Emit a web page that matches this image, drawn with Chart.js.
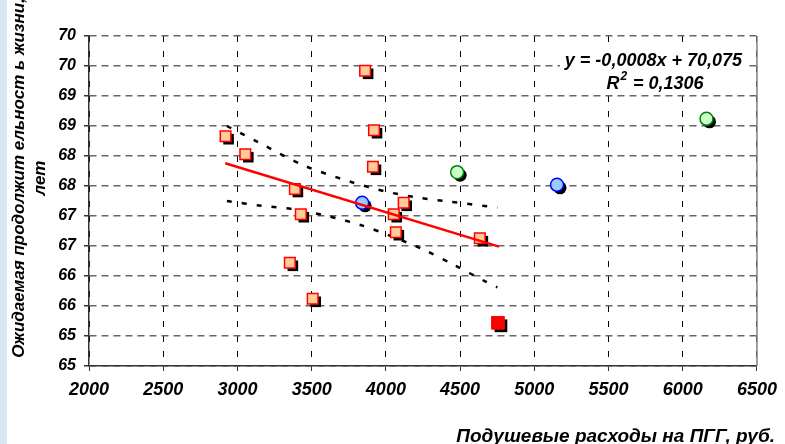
<!DOCTYPE html>
<html>
<head>
<meta charset="utf-8">
<script src="https://cdn.jsdelivr.net/npm/chart.js@4.4.1/dist/chart.umd.min.js"></script>
<style>
    html, body { margin: 0; padding: 0; }
    body { width: 785px; height: 444px; background: linear-gradient(to right, #d9e5f2 7px, #ffffff 7px); }
    #wrap { position: relative; width: 785px; height: 444px; }
</style>
</head>
<body>
<div id="wrap"><canvas id="lifeChart" width="785" height="444"></canvas></div>
<script>
// regions (orange squares)
var regionX = [2920, 3053, 3860, 3920, 3913, 3387, 4120, 3427, 4053, 4067, 4633, 3353, 3507];
var regionY = [68.83, 68.53, 69.92, 68.93, 68.32, 67.95, 67.72, 67.53, 67.53, 67.23, 67.13, 66.72, 66.12];
// highlighted region (red square)
var redX = [4755];
var redY = [65.72];
// blue circles
var blueX = [3840, 5153];
var blueY = [67.72, 68.02];
// green circles
var greenX = [4480, 6160];
var greenY = [68.23, 69.12];
// linear trend
var trendX = [2918, 4762];
var trendY = [68.38, 66.99];
// confidence band, upper and lower
var upperX = [2929, 3140, 3440, 3762, 3996, 4207, 4429, 4751];
var upperY = [69.0, 68.73, 68.35, 68.07, 67.91, 67.81, 67.74, 67.64];
var lowerX = [2929, 3162, 3384, 3607, 3829, 4040, 4262, 4462, 4662, 4751];
var lowerY = [67.75, 67.67, 67.61, 67.5, 67.35, 67.16, 66.93, 66.68, 66.42, 66.31];

var yTickLabels = ['65', '65', '66', '66', '67', '67', '68', '68', '69', '69', '70', '70'];
var yTitle = ['Ожидаемая продолжит ельност ь жизни,', 'лет'];
var xTitle = 'Подушевые расходы на ПГГ, руб.';
var eqLine1 = 'y = -0,0008x + 70,075';
var eqLine2 = ['R', '2', ' = 0,1306'];

function pts(xs, ys) {
    var out = [];
    for (var i = 0; i < xs.length; i++) {
        out.push({ x: xs[i], y: ys[i] });
    }
    return out;
}

var fontFam = "'Liberation Sans', Arial, sans-serif";

// black drop shadow under the markers (fill only, not the outline)
var shadowPlugin = {
    id: 'shadow',
    beforeDatasetDraw: function (chart, args) {
        var ds = chart.data.datasets[args.index];
        var c = chart.ctx;
        c.save();
        if (ds.dropShadow) {
            c.shadowColor = '#000000';
            c.shadowOffsetX = 3;
            c.shadowOffsetY = 3;
            c.shadowBlur = 0;
            c._origStroke = c.stroke;
            c.stroke = function () {
                var sc = this.shadowColor;
                this.shadowColor = 'rgba(0,0,0,0)';
                this._origStroke.apply(this, arguments);
                this.shadowColor = sc;
            };
        }
    },
    afterDatasetDraw: function (chart) {
        var c = chart.ctx;
        if (c._origStroke) {
            c.stroke = c._origStroke;
            delete c._origStroke;
        }
        c.restore();
    }
};

// right frame, axis titles and the equation box
var textPlugin = {
    id: 'texts',
    beforeDatasetsDraw: function (chart) {
        var ctx = chart.ctx;
        var a = chart.chartArea;
        ctx.save();
        ctx.strokeStyle = '#808080';
        ctx.lineWidth = 1.5;
        ctx.beginPath();
        ctx.moveTo(a.right, a.top);
        ctx.lineTo(a.right, a.bottom);
        ctx.stroke();
        // white box under the trend equation
        ctx.fillStyle = '#ffffff';
        ctx.fillRect(560, 48, 186, 45);
        ctx.restore();
    },
    afterDraw: function (chart) {
        var ctx = chart.ctx;
        ctx.save();
        ctx.fillStyle = '#000000';
        ctx.font = 'italic bold 17px ' + fontFam;
        ctx.textAlign = 'center';
        ctx.textBaseline = 'middle';
        ctx.save();
        ctx.translate(19, 178);
        ctx.rotate(-Math.PI / 2);
        ctx.fillText(yTitle[0], 0, 0);
        ctx.restore();
        ctx.save();
        ctx.translate(40, 178);
        ctx.rotate(-Math.PI / 2);
        ctx.fillText(yTitle[1], 0, 0);
        ctx.restore();

        ctx.font = 'italic bold 19px ' + fontFam;
        ctx.textAlign = 'right';
        ctx.fillText(xTitle, 775, 437);

        ctx.font = 'italic bold 18px ' + fontFam;
        ctx.textAlign = 'right';
        ctx.fillText(eqLine1, 742, 61);

        // R^2 line, centred around x = 654
        ctx.textAlign = 'left';
        var wR = ctx.measureText(eqLine2[0]).width;
        var wRest = ctx.measureText(eqLine2[2]).width;
        ctx.font = 'italic bold 12px ' + fontFam;
        var wSup = ctx.measureText(eqLine2[1]).width;
        var x0 = 654 - (wR + wSup + wRest) / 2;
        ctx.font = 'italic bold 18px ' + fontFam;
        ctx.fillText(eqLine2[0], x0, 84);
        ctx.font = 'italic bold 12px ' + fontFam;
        ctx.fillText(eqLine2[1], x0 + wR + 1, 77);
        ctx.font = 'italic bold 18px ' + fontFam;
        ctx.fillText(eqLine2[2], x0 + wR + wSup + 2, 84);
        ctx.restore();
    }
};

var ctx = document.getElementById('lifeChart');
var lifeChart = new Chart(ctx, {
    type: 'scatter',
    data: {
        datasets: [
            {
                label: 'upper',
                data: pts(upperX, upperY),
                order: 2,
                showLine: true,
                borderColor: '#000000',
                borderWidth: 2.5,
                borderDash: [5, 10],
                pointRadius: 0,
                tension: 0.3
            },
            {
                label: 'lower',
                data: pts(lowerX, lowerY),
                order: 2,
                showLine: true,
                borderColor: '#000000',
                borderWidth: 2.5,
                borderDash: [5, 10],
                pointRadius: 0,
                tension: 0.3
            },
            {
                label: 'trend',
                data: pts(trendX, trendY),
                order: 0,
                showLine: true,
                borderColor: '#ff0000',
                borderWidth: 2.5,
                pointRadius: 0
            },
            {
                label: 'regions',
                data: pts(regionX, regionY),
                order: 1,
                pointStyle: 'rect',
                pointRadius: 7.5,
                backgroundColor: '#ffcc99',
                borderColor: '#ff0000',
                borderWidth: 1.5,
                dropShadow: true
            },
            {
                label: 'red',
                data: pts(redX, redY),
                order: 1,
                pointStyle: 'rect',
                pointRadius: 9,
                backgroundColor: '#ff0000',
                borderColor: '#ff0000',
                borderWidth: 1,
                dropShadow: true
            },
            {
                label: 'blue',
                data: pts(blueX, blueY),
                order: 1,
                pointStyle: 'circle',
                pointRadius: 6.5,
                backgroundColor: '#99ccff',
                borderColor: '#0000ff',
                borderWidth: 1.5,
                dropShadow: true
            },
            {
                label: 'green',
                data: pts(greenX, greenY),
                order: 1,
                pointStyle: 'circle',
                pointRadius: 6.5,
                backgroundColor: '#ccffcc',
                borderColor: '#008000',
                borderWidth: 1.5,
                dropShadow: true
            }
        ]
    },
    options: {
        responsive: false,
        animation: false,
        layout: { padding: { left: 0, right: 21, top: 36, bottom: 0 } },
        plugins: {
            legend: { display: false },
            tooltip: { enabled: false }
        },
        scales: {
            x: {
                type: 'linear',
                min: 2000,
                max: 6500,
                afterFit: function (scale) { scale.height = 78; },
                ticks: {
                    stepSize: 500,
                    padding: 8,
                    color: '#000000',
                    font: { family: fontFam, size: 18, style: 'italic', weight: 'bold' },
                    callback: function (value) { return String(value); }
                },
                grid: {
                    color: '#000000',
                    lineWidth: 1,
                    tickLength: 5,
                    tickBorderDash: [],
                    tickColor: '#333333'
                },
                border: { color: '#333333', width: 1.5, dash: [6, 9] }
            },
            y: {
                min: 65,
                max: 70.5,
                afterFit: function (scale) { scale.width = 89; },
                ticks: {
                    stepSize: 0.5,
                    padding: 8,
                    color: '#000000',
                    font: { family: fontFam, size: 16, style: 'italic', weight: 'bold' },
                    callback: function (value, index) { return yTickLabels[index]; }
                },
                grid: {
                    color: '#666666',
                    lineWidth: 1.5,
                    tickLength: 5,
                    tickBorderDash: [],
                    tickColor: '#333333'
                },
                border: { color: '#333333', width: 1.5, dash: [7, 5] }
            }
        }
    },
    plugins: [shadowPlugin, textPlugin]
});
</script>
</body>
</html>
